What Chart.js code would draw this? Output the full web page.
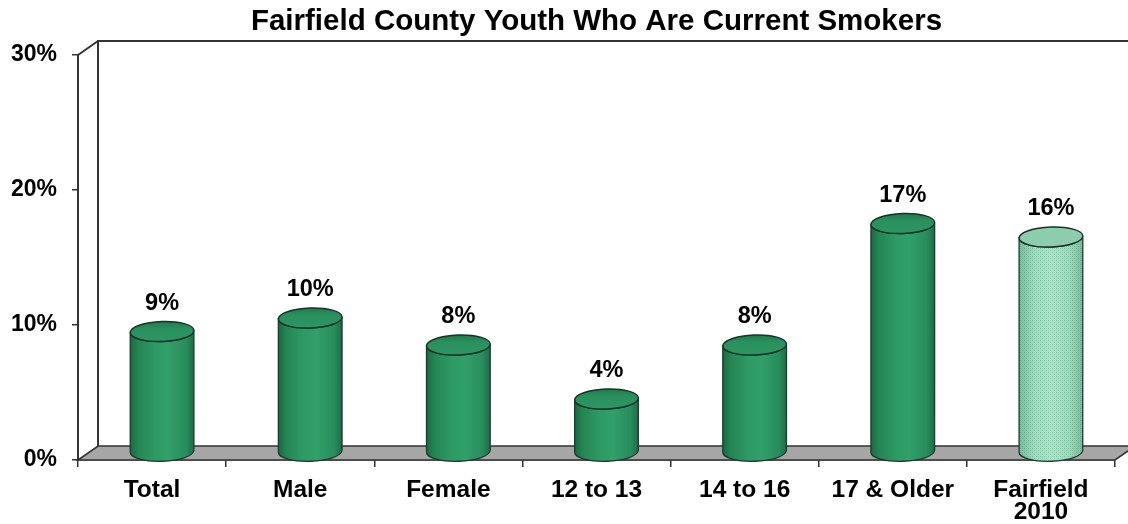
<!DOCTYPE html>
<html>
<head>
<meta charset="utf-8">
<script src="https://cdn.jsdelivr.net/npm/chart.js@4.4.1/dist/chart.umd.min.js"></script>
<style>
  html, body { margin: 0; padding: 0; background: #ffffff; }
  #wrap { width: 1128px; height: 524px; position: relative; }
</style>
</head>
<body>
<div id="wrap"><canvas id="c"></canvas></div>
<script>
const titleText = 'Fairfield County Youth Who Are Current Smokers';
const categories = [['Total'], ['Male'], ['Female'], ['12 to 13'], ['14 to 16'], ['17 & Older'], ['Fairfield', '2010']];
const values = [9, 10, 8, 4, 8, 17, 16];
const valueLabels = ['9%', '10%', '8%', '4%', '8%', '17%', '16%'];
const yTickValues = [0, 10, 20, 30];
const yTickLabels = ['0%', '10%', '20%', '30%'];

const FONT = "'Liberation Sans', Arial, Helvetica, sans-serif";
Chart.defaults.font.family = FONT;
Chart.defaults.color = '#000';

const DX = 20, DY = 14;

function makePattern(ctx) {
  const pc = document.createElement('canvas');
  pc.width = 4; pc.height = 4;
  const p = pc.getContext('2d');
  p.fillStyle = '#b0dfc8';
  p.fillRect(0, 0, 4, 4);
  p.fillStyle = '#7cc2a0';
  p.fillRect(0, 0, 1, 1);
  p.fillRect(2, 2, 1, 1);
  p.fillStyle = '#96d1b4';
  p.fillRect(2, 0, 1, 1);
  p.fillRect(0, 2, 1, 1);
  return ctx.createPattern(pc, 'repeat');
}

const framePlugin = {
  id: 'frame3d',
  beforeDatasetsDraw(chart) {
    const ctx = chart.ctx;
    const a = chart.chartArea;
    ctx.save();
    ctx.lineJoin = 'miter';
    ctx.beginPath();
    ctx.moveTo(a.left, a.bottom);
    ctx.lineTo(a.right, a.bottom);
    ctx.lineTo(a.right + DX, a.bottom - DY);
    ctx.lineTo(a.left + DX, a.bottom - DY);
    ctx.closePath();
    ctx.fillStyle = '#a6a6a6';
    ctx.fill();
    ctx.strokeStyle = '#333';
    ctx.lineWidth = 1.6;
    ctx.stroke();
    ctx.beginPath();
    ctx.moveTo(a.left + DX, a.bottom - DY);
    ctx.lineTo(a.left + DX, a.top - DY);
    ctx.lineTo(chart.width + 5, a.top - DY);
    ctx.moveTo(a.left, a.top);
    ctx.lineTo(a.left + DX, a.top - DY);
    ctx.lineWidth = 2;
    ctx.strokeStyle = '#333';
    ctx.stroke();
    ctx.beginPath();
    ctx.moveTo(a.left, a.top);
    ctx.lineTo(a.left, a.bottom);
    ctx.stroke();
    ctx.restore();
  }
};

const cylinderPlugin = {
  id: 'cylinders',
  afterDatasetsDraw(chart) {
    const ctx = chart.ctx;
    const meta = chart.getDatasetMeta(0);
    const pattern = makePattern(ctx);
    const rot = -0.035;
    meta.data.forEach((bar, i) => {
      const p = bar.getProps(['x', 'y', 'base', 'width'], true);
      const cx = p.x + DX / 2;
      const rx = p.width / 2;
      const ry = 10;
      const top = p.y - DY / 2;
      const bot = p.base - DY / 2 - 1;
      const light = i === categories.length - 1;
      ctx.save();
      ctx.beginPath();
      ctx.moveTo(cx - rx, top);
      ctx.lineTo(cx - rx, bot);
      ctx.ellipse(cx, bot, rx, ry, rot, Math.PI, 0, true);
      ctx.lineTo(cx + rx, top);
      ctx.ellipse(cx, top, rx, ry, rot, 0, Math.PI, false);
      ctx.closePath();
      if (light) {
        ctx.fillStyle = pattern;
        ctx.fill();
        const g2 = ctx.createLinearGradient(cx - rx, 0, cx + rx, 0);
        g2.addColorStop(0, 'rgba(40,110,80,0.35)');
        g2.addColorStop(0.25, 'rgba(40,110,80,0.05)');
        g2.addColorStop(0.5, 'rgba(255,255,255,0.06)');
        g2.addColorStop(0.8, 'rgba(40,110,80,0.08)');
        g2.addColorStop(1, 'rgba(40,110,80,0.35)');
        ctx.fillStyle = g2;
        ctx.fill();
      } else {
        const g = ctx.createLinearGradient(cx - rx, 0, cx + rx, 0);
        g.addColorStop(0, '#1a6a42');
        g.addColorStop(0.12, '#248553');
        g.addColorStop(0.4, '#2e9a66');
        g.addColorStop(0.6, '#31a06b');
        g.addColorStop(0.88, '#288c5c');
        g.addColorStop(1, '#1c6d46');
        ctx.fillStyle = g;
        ctx.fill();
      }
      ctx.lineWidth = 1.3;
      ctx.strokeStyle = '#1d3a2b';
      ctx.stroke();
      ctx.beginPath();
      ctx.ellipse(cx, top, rx, ry, rot, 0, Math.PI * 2);
      if (light) {
        ctx.fillStyle = '#8dccad';
        ctx.fill();
      } else {
        const gt = ctx.createLinearGradient(0, top - ry, 0, top + ry);
        gt.addColorStop(0, '#1f7a4d');
        gt.addColorStop(0.35, '#29905e');
        gt.addColorStop(1, '#2d9663');
        ctx.fillStyle = gt;
        ctx.fill();
      }
      ctx.lineWidth = 1.4;
      ctx.strokeStyle = '#1a3326';
      ctx.stroke();
      ctx.fillStyle = '#000';
      ctx.font = 'bold 23.5px ' + FONT;
      ctx.textAlign = 'center';
      ctx.textBaseline = 'middle';
      ctx.fillText(valueLabels[i], cx, top - 28);
      ctx.restore();
    });
  }
};

new Chart(document.getElementById('c'), {
  type: 'bar',
  data: {
    labels: categories,
    datasets: [{
      data: values,
      backgroundColor: 'rgba(0,0,0,0)',
      borderWidth: 0,
      barPercentage: 0.43,
      categoryPercentage: 1.0
    }]
  },
  options: {
    responsive: true,
    maintainAspectRatio: false,
    animation: false,
    events: [],
    layout: { padding: { left: 0, right: 13, top: 0, bottom: 0 } },
    plugins: {
      legend: { display: false },
      tooltip: { enabled: false },
      title: {
        display: true,
        text: titleText,
        fullSize: false,
        color: '#000',
        font: { size: 29.5, weight: 'bold', family: FONT },
        padding: { top: 4, bottom: 15.6 }
      }
    },
    scales: {
      x: {
        offset: true,
        grid: { display: true, drawOnChartArea: false, drawTicks: true, tickLength: 7, color: '#333', lineWidth: 1.5, offset: true },
        border: { display: true, color: '#333', width: 1.6 },
        ticks: {
          autoSkip: false, maxRotation: 0, minRotation: 0,
          color: '#000', padding: 12,
          font: { size: 24.5, weight: 'bold', family: FONT, lineHeight: 0.9 }
        },
        afterFit(scale) { scale.height = 64; }
      },
      y: {
        min: 0, max: 30,
        afterBuildTicks(scale) { scale.ticks = yTickValues.map(v => ({ value: v })); },
        grid: { display: true, drawOnChartArea: false, drawTicks: true, tickLength: 6, color: '#333', lineWidth: 1.5 },
        border: { display: true, color: '#333', width: 2 },
        ticks: {
          color: '#000', padding: 15,
          font: { size: 23, weight: 'bold', family: FONT },
          callback(v) { const k = yTickValues.indexOf(v); return k >= 0 ? yTickLabels[k] : ''; }
        },
        afterFit(scale) { scale.width = 78; }
      }
    }
  },
  plugins: [framePlugin, cylinderPlugin]
});
</script>
</body>
</html>
